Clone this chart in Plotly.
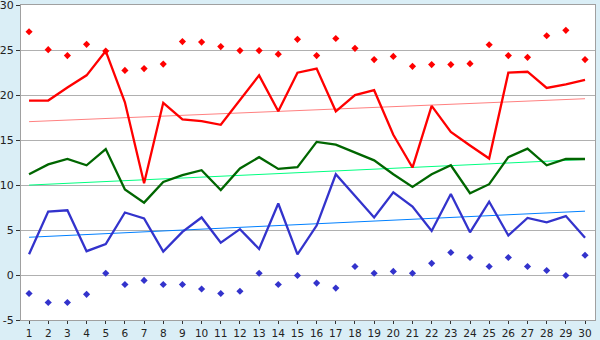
import plotly.graph_objects as go

days = list(range(1, 31))

red_line = [19.4, 19.4, 20.85, 22.2, 24.9, 19.2, 10.2, 19.15, 17.3, 17.1,
            16.7, 19.5, 22.2, 18.2, 22.5, 22.95, 18.2, 20.0, 20.55, 15.6,
            11.95, 18.8, 15.9, 14.4, 12.95, 22.5, 22.6, 20.8, 21.2, 21.7]
red_marks = [27.05, 25.05, 24.4, 25.65, 24.9, 22.75, 22.95, 23.45, 25.95, 25.9,
             25.4, 24.95, 24.95, 24.55, 26.2, 24.4, 26.3, 25.2, 23.95, 24.3,
             23.2, 23.4, 23.4, 23.5, 25.6, 24.4, 24.2, 26.6, 27.2, 23.95]
green_line = [11.2, 12.3, 12.9, 12.2, 14.0, 9.5, 8.05, 10.35, 11.1, 11.65,
              9.45, 11.85, 13.1, 11.8, 12.0, 14.8, 14.5, 13.6, 12.75, 11.2,
              9.8, 11.2, 12.2, 9.1, 10.1, 13.1, 14.05, 12.2, 12.9, 12.9]
blue_line = [2.3, 7.05, 7.2, 2.65, 3.45, 6.95, 6.3, 2.6, 4.8, 6.4,
             3.6, 5.1, 2.9, 7.95, 2.3, 5.5, 11.2, 8.8, 6.4, 9.2,
             7.6, 4.9, 9.0, 4.75, 8.15, 4.4, 6.35, 5.85, 6.55, 4.15]
blue_marks = [-2.05, -3.05, -3.05, -2.15, 0.2, -1.05, -0.6, -1.05, -1.05, -1.55,
              -2.05, -1.8, 0.2, -1.05, -0.05, -0.9, -1.45, 0.95, 0.2, 0.4,
              0.2, 1.3, 2.5, 1.95, 0.95, 1.95, 0.95, 0.5, -0.05, 2.2]

trend_x = [1, 30]
red_trend = [17.05, 19.6]
green_trend = [10.0, 12.85]
blue_trend = [4.2, 7.1]

y_ticks = [-5, 0, 5, 10, 15, 20, 25, 30]

fig = go.Figure()
fig.add_trace(go.Scatter(x=trend_x, y=red_trend, mode="lines",
                         line=dict(color="#ff8080", width=1)))
fig.add_trace(go.Scatter(x=trend_x, y=green_trend, mode="lines",
                         line=dict(color="#00ff80", width=1)))
fig.add_trace(go.Scatter(x=trend_x, y=blue_trend, mode="lines",
                         line=dict(color="#0080ff", width=1)))
fig.add_trace(go.Scatter(x=days, y=red_line, mode="lines",
                         line=dict(color="#ff0000", width=2.3)))
fig.add_trace(go.Scatter(x=days, y=green_line, mode="lines",
                         line=dict(color="#006600", width=2.3)))
fig.add_trace(go.Scatter(x=days, y=blue_line, mode="lines",
                         line=dict(color="#3333cc", width=2.3)))
fig.add_trace(go.Scatter(x=days, y=red_marks, mode="markers",
                         marker=dict(color="#ff0000", symbol="diamond", size=5.5)))
fig.add_trace(go.Scatter(x=days, y=blue_marks, mode="markers",
                         marker=dict(color="#3333cc", symbol="diamond", size=5.5)))

fig.update_layout(
    width=600, height=340,
    margin=dict(l=21, r=5, t=5, b=20),
    paper_bgcolor="#daeef6",
    plot_bgcolor="#ffffff",
    showlegend=False,
    font=dict(family="DejaVu Sans", size=11, color="#222222"),
)
fig.update_xaxes(
    range=[0.58, 30.52], tickmode="array", tickvals=days,
    ticktext=[str(d) for d in days],
    showgrid=False, zeroline=False,
    ticks="outside", ticklen=3, tickcolor="#333333",
    tickfont=dict(size=10.5),
    showline=True, linecolor="#a0a0a0", mirror=True,
    automargin=False,
)
fig.update_yaxes(
    range=[-5, 30.02], tickmode="array", tickvals=y_ticks,
    ticktext=[str(v) for v in y_ticks],
    showgrid=True, gridcolor="#b0b0b0", gridwidth=1, zeroline=False,
    ticks="outside", ticklen=4, tickcolor="#333333",
    showline=True, linecolor="#a0a0a0", mirror=True,
    ticklabeloverflow="allow", automargin=False,
)

fig.write_html("out.html")
